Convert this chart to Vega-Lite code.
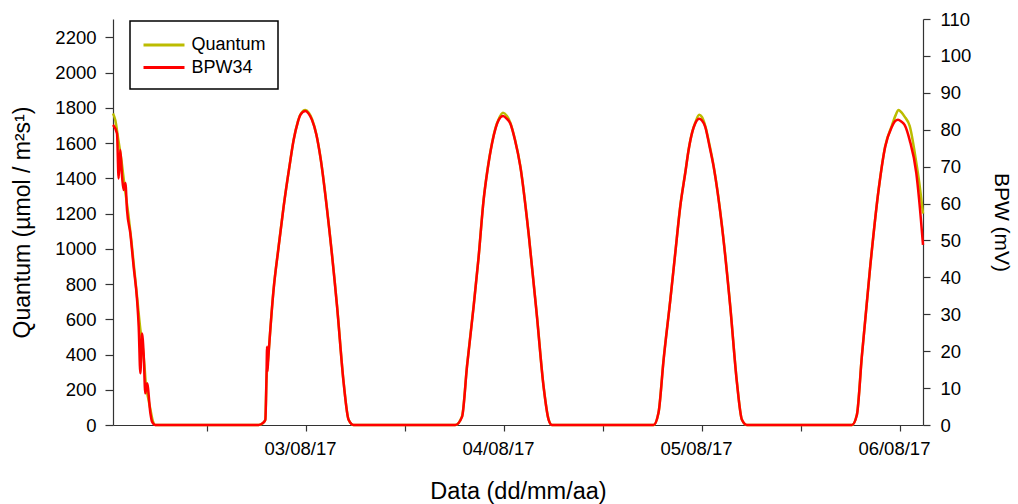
{
  "$schema": "https://vega.github.io/schema/vega-lite/v6.json",
  "width": 810,
  "height": 406,
  "autosize": {"type": "none"},
  "padding": {"left": 113, "top": 19, "right": 95, "bottom": 79},
  "background": "white",
  "config": {
    "view": {"stroke": null},
    "font": "Liberation Sans",
    "axis": {
      "grid": false,
      "domainColor": "#333",
      "tickColor": "#333",
      "domainWidth": 1.2,
      "tickWidth": 1.2,
      "labelColor": "#000",
      "titleColor": "#000",
      "labelFont": "Liberation Sans",
      "titleFont": "Liberation Sans",
      "labelFontSize": 18.5,
      "titleFontSize": 21,
      "titleFontWeight": "normal"
    },
    "legend": {
      "orient": "none",
      "legendX": 17,
      "legendY": 2,
      "strokeColor": "#000",
      "fillColor": "#fff",
      "strokeWidth": 1.5,
      "padding": 12,
      "symbolType": "M-2,0H2",
      "symbolStrokeWidth": 3,
      "symbolSize": 420,
      "symbolOffset": 10,
      "labelFontSize": 18,
      "labelFont": "Liberation Sans",
      "labelColor": "#000",
      "rowPadding": 1.5,
      "labelOffset": 15.5
    }
  },
  "data": {
    "values": [
      {"t": "2017-08-02T12:36", "s": "Quantum", "v": 1768},
      {"t": "2017-08-02T12:53", "s": "Quantum", "v": 1730},
      {"t": "2017-08-02T13:15", "s": "Quantum", "v": 1617},
      {"t": "2017-08-02T13:37", "s": "Quantum", "v": 1504},
      {"t": "2017-08-02T13:59", "s": "Quantum", "v": 1363},
      {"t": "2017-08-02T14:28", "s": "Quantum", "v": 1193},
      {"t": "2017-08-02T14:49", "s": "Quantum", "v": 1052},
      {"t": "2017-08-02T15:11", "s": "Quantum", "v": 882},
      {"t": "2017-08-02T15:33", "s": "Quantum", "v": 713},
      {"t": "2017-08-02T15:55", "s": "Quantum", "v": 543},
      {"t": "2017-08-02T16:10", "s": "Quantum", "v": 458},
      {"t": "2017-08-02T16:24", "s": "Quantum", "v": 345},
      {"t": "2017-08-02T16:35", "s": "Quantum", "v": 232},
      {"t": "2017-08-02T16:53", "s": "Quantum", "v": 147},
      {"t": "2017-08-02T17:08", "s": "Quantum", "v": 90},
      {"t": "2017-08-02T17:22", "s": "Quantum", "v": 34},
      {"t": "2017-08-02T17:44", "s": "Quantum", "v": 0},
      {"t": "2017-08-03T06:15", "s": "Quantum", "v": 0},
      {"t": "2017-08-03T06:45", "s": "Quantum", "v": 10},
      {"t": "2017-08-03T07:04", "s": "Quantum", "v": 30},
      {"t": "2017-08-03T07:12", "s": "Quantum", "v": 250},
      {"t": "2017-08-03T07:25", "s": "Quantum", "v": 380},
      {"t": "2017-08-03T08:04", "s": "Quantum", "v": 770},
      {"t": "2017-08-03T08:40", "s": "Quantum", "v": 1010},
      {"t": "2017-08-03T09:17", "s": "Quantum", "v": 1240},
      {"t": "2017-08-03T10:00", "s": "Quantum", "v": 1470},
      {"t": "2017-08-03T10:30", "s": "Quantum", "v": 1618},
      {"t": "2017-08-03T11:00", "s": "Quantum", "v": 1720},
      {"t": "2017-08-03T11:19", "s": "Quantum", "v": 1762},
      {"t": "2017-08-03T11:55", "s": "Quantum", "v": 1788},
      {"t": "2017-08-03T12:20", "s": "Quantum", "v": 1772},
      {"t": "2017-08-03T12:44", "s": "Quantum", "v": 1735},
      {"t": "2017-08-03T13:15", "s": "Quantum", "v": 1650},
      {"t": "2017-08-03T13:44", "s": "Quantum", "v": 1525},
      {"t": "2017-08-03T14:44", "s": "Quantum", "v": 1150},
      {"t": "2017-08-03T15:46", "s": "Quantum", "v": 675},
      {"t": "2017-08-03T16:34", "s": "Quantum", "v": 240},
      {"t": "2017-08-03T17:10", "s": "Quantum", "v": 30},
      {"t": "2017-08-03T17:46", "s": "Quantum", "v": 0},
      {"t": "2017-08-04T06:06", "s": "Quantum", "v": 0},
      {"t": "2017-08-04T06:55", "s": "Quantum", "v": 50},
      {"t": "2017-08-04T07:31", "s": "Quantum", "v": 335},
      {"t": "2017-08-04T08:19", "s": "Quantum", "v": 675},
      {"t": "2017-08-04T08:55", "s": "Quantum", "v": 950},
      {"t": "2017-08-04T09:32", "s": "Quantum", "v": 1280},
      {"t": "2017-08-04T10:00", "s": "Quantum", "v": 1450},
      {"t": "2017-08-04T10:33", "s": "Quantum", "v": 1600},
      {"t": "2017-08-04T11:00", "s": "Quantum", "v": 1690},
      {"t": "2017-08-04T11:21", "s": "Quantum", "v": 1735},
      {"t": "2017-08-04T11:53", "s": "Quantum", "v": 1772},
      {"t": "2017-08-04T12:20", "s": "Quantum", "v": 1755},
      {"t": "2017-08-04T12:46", "s": "Quantum", "v": 1716},
      {"t": "2017-08-04T13:20", "s": "Quantum", "v": 1620},
      {"t": "2017-08-04T13:59", "s": "Quantum", "v": 1470},
      {"t": "2017-08-04T14:59", "s": "Quantum", "v": 1090},
      {"t": "2017-08-04T16:00", "s": "Quantum", "v": 618},
      {"t": "2017-08-04T16:48", "s": "Quantum", "v": 220},
      {"t": "2017-08-04T17:25", "s": "Quantum", "v": 30},
      {"t": "2017-08-04T17:49", "s": "Quantum", "v": 0},
      {"t": "2017-08-05T06:08", "s": "Quantum", "v": 0},
      {"t": "2017-08-05T06:44", "s": "Quantum", "v": 70},
      {"t": "2017-08-05T07:21", "s": "Quantum", "v": 372},
      {"t": "2017-08-05T08:10", "s": "Quantum", "v": 712},
      {"t": "2017-08-05T08:45", "s": "Quantum", "v": 970},
      {"t": "2017-08-05T09:22", "s": "Quantum", "v": 1240},
      {"t": "2017-08-05T10:00", "s": "Quantum", "v": 1440},
      {"t": "2017-08-05T10:23", "s": "Quantum", "v": 1562},
      {"t": "2017-08-05T10:50", "s": "Quantum", "v": 1665},
      {"t": "2017-08-05T11:11", "s": "Quantum", "v": 1715},
      {"t": "2017-08-05T11:40", "s": "Quantum", "v": 1760},
      {"t": "2017-08-05T12:00", "s": "Quantum", "v": 1748},
      {"t": "2017-08-05T12:24", "s": "Quantum", "v": 1698},
      {"t": "2017-08-05T12:55", "s": "Quantum", "v": 1590},
      {"t": "2017-08-05T13:25", "s": "Quantum", "v": 1470},
      {"t": "2017-08-05T14:26", "s": "Quantum", "v": 1130},
      {"t": "2017-08-05T15:26", "s": "Quantum", "v": 675},
      {"t": "2017-08-05T16:15", "s": "Quantum", "v": 240},
      {"t": "2017-08-05T16:51", "s": "Quantum", "v": 30},
      {"t": "2017-08-05T17:27", "s": "Quantum", "v": 0},
      {"t": "2017-08-06T06:11", "s": "Quantum", "v": 0},
      {"t": "2017-08-06T06:47", "s": "Quantum", "v": 60},
      {"t": "2017-08-06T07:23", "s": "Quantum", "v": 390},
      {"t": "2017-08-06T08:24", "s": "Quantum", "v": 900},
      {"t": "2017-08-06T09:25", "s": "Quantum", "v": 1335},
      {"t": "2017-08-06T10:13", "s": "Quantum", "v": 1582},
      {"t": "2017-08-06T11:02", "s": "Quantum", "v": 1700},
      {"t": "2017-08-06T11:30", "s": "Quantum", "v": 1760},
      {"t": "2017-08-06T11:50", "s": "Quantum", "v": 1788},
      {"t": "2017-08-06T12:10", "s": "Quantum", "v": 1775},
      {"t": "2017-08-06T12:34", "s": "Quantum", "v": 1750},
      {"t": "2017-08-06T13:11", "s": "Quantum", "v": 1697},
      {"t": "2017-08-06T13:59", "s": "Quantum", "v": 1490},
      {"t": "2017-08-06T14:20", "s": "Quantum", "v": 1380},
      {"t": "2017-08-06T14:48", "s": "Quantum", "v": 1200},

      {"t": "2017-08-02T12:36", "s": "BPW34", "v": 81.3},
      {"t": "2017-08-02T13:05", "s": "BPW34", "v": 79.0},
      {"t": "2017-08-02T13:17", "s": "BPW34", "v": 66.8},
      {"t": "2017-08-02T13:29", "s": "BPW34", "v": 74.5},
      {"t": "2017-08-02T13:42", "s": "BPW34", "v": 67.3},
      {"t": "2017-08-02T13:53", "s": "BPW34", "v": 63.7},
      {"t": "2017-08-02T14:06", "s": "BPW34", "v": 65.6},
      {"t": "2017-08-02T14:18", "s": "BPW34", "v": 58.2},
      {"t": "2017-08-02T14:42", "s": "BPW34", "v": 51.9},
      {"t": "2017-08-02T15:06", "s": "BPW34", "v": 42.9},
      {"t": "2017-08-02T15:31", "s": "BPW34", "v": 33.9},
      {"t": "2017-08-02T15:43", "s": "BPW34", "v": 26.6},
      {"t": "2017-08-02T15:55", "s": "BPW34", "v": 14.0},
      {"t": "2017-08-02T16:07", "s": "BPW34", "v": 24.8},
      {"t": "2017-08-02T16:19", "s": "BPW34", "v": 19.3},
      {"t": "2017-08-02T16:31", "s": "BPW34", "v": 8.6},
      {"t": "2017-08-02T16:44", "s": "BPW34", "v": 11.3},
      {"t": "2017-08-02T17:08", "s": "BPW34", "v": 3.2},
      {"t": "2017-08-02T17:20", "s": "BPW34", "v": 0.9},
      {"t": "2017-08-02T17:44", "s": "BPW34", "v": 0},
      {"t": "2017-08-03T06:15", "s": "BPW34", "v": 0},
      {"t": "2017-08-03T06:45", "s": "BPW34", "v": 0.5},
      {"t": "2017-08-03T07:04", "s": "BPW34", "v": 1.4},
      {"t": "2017-08-03T07:12", "s": "BPW34", "v": 11.9},
      {"t": "2017-08-03T07:17", "s": "BPW34", "v": 21.2},
      {"t": "2017-08-03T07:19", "s": "BPW34", "v": 14.5},
      {"t": "2017-08-03T07:25", "s": "BPW34", "v": 17.8},
      {"t": "2017-08-03T08:04", "s": "BPW34", "v": 36.6},
      {"t": "2017-08-03T08:40", "s": "BPW34", "v": 48.0},
      {"t": "2017-08-03T09:17", "s": "BPW34", "v": 59.1},
      {"t": "2017-08-03T10:00", "s": "BPW34", "v": 70.2},
      {"t": "2017-08-03T10:30", "s": "BPW34", "v": 77.2},
      {"t": "2017-08-03T11:00", "s": "BPW34", "v": 82.0},
      {"t": "2017-08-03T11:19", "s": "BPW34", "v": 84.0},
      {"t": "2017-08-03T11:55", "s": "BPW34", "v": 85.1},
      {"t": "2017-08-03T12:20", "s": "BPW34", "v": 84.3},
      {"t": "2017-08-03T12:44", "s": "BPW34", "v": 82.6},
      {"t": "2017-08-03T13:15", "s": "BPW34", "v": 78.7},
      {"t": "2017-08-03T13:44", "s": "BPW34", "v": 72.7},
      {"t": "2017-08-03T14:44", "s": "BPW34", "v": 54.7},
      {"t": "2017-08-03T15:46", "s": "BPW34", "v": 32.0},
      {"t": "2017-08-03T16:34", "s": "BPW34", "v": 11.3},
      {"t": "2017-08-03T17:10", "s": "BPW34", "v": 1.4},
      {"t": "2017-08-03T17:46", "s": "BPW34", "v": 0},
      {"t": "2017-08-04T06:06", "s": "BPW34", "v": 0},
      {"t": "2017-08-04T06:55", "s": "BPW34", "v": 2.2},
      {"t": "2017-08-04T07:31", "s": "BPW34", "v": 15.8},
      {"t": "2017-08-04T08:19", "s": "BPW34", "v": 32.0},
      {"t": "2017-08-04T08:55", "s": "BPW34", "v": 45.3},
      {"t": "2017-08-04T09:32", "s": "BPW34", "v": 61.0},
      {"t": "2017-08-04T10:00", "s": "BPW34", "v": 69.0},
      {"t": "2017-08-04T10:33", "s": "BPW34", "v": 76.3},
      {"t": "2017-08-04T11:00", "s": "BPW34", "v": 80.5},
      {"t": "2017-08-04T11:21", "s": "BPW34", "v": 82.6},
      {"t": "2017-08-04T11:53", "s": "BPW34", "v": 83.7},
      {"t": "2017-08-04T12:20", "s": "BPW34", "v": 83.0},
      {"t": "2017-08-04T12:46", "s": "BPW34", "v": 81.7},
      {"t": "2017-08-04T13:20", "s": "BPW34", "v": 77.2},
      {"t": "2017-08-04T13:59", "s": "BPW34", "v": 70.0},
      {"t": "2017-08-04T14:59", "s": "BPW34", "v": 51.9},
      {"t": "2017-08-04T16:00", "s": "BPW34", "v": 29.3},
      {"t": "2017-08-04T16:48", "s": "BPW34", "v": 10.4},
      {"t": "2017-08-04T17:25", "s": "BPW34", "v": 1.4},
      {"t": "2017-08-04T17:49", "s": "BPW34", "v": 0},
      {"t": "2017-08-05T06:08", "s": "BPW34", "v": 0},
      {"t": "2017-08-05T06:44", "s": "BPW34", "v": 3.3},
      {"t": "2017-08-05T07:21", "s": "BPW34", "v": 17.6},
      {"t": "2017-08-05T08:10", "s": "BPW34", "v": 33.9},
      {"t": "2017-08-05T08:45", "s": "BPW34", "v": 46.2},
      {"t": "2017-08-05T09:22", "s": "BPW34", "v": 59.1},
      {"t": "2017-08-05T10:00", "s": "BPW34", "v": 68.6},
      {"t": "2017-08-05T10:23", "s": "BPW34", "v": 74.5},
      {"t": "2017-08-05T10:50", "s": "BPW34", "v": 79.4},
      {"t": "2017-08-05T11:11", "s": "BPW34", "v": 81.7},
      {"t": "2017-08-05T11:40", "s": "BPW34", "v": 83.0},
      {"t": "2017-08-05T12:00", "s": "BPW34", "v": 82.5},
      {"t": "2017-08-05T12:24", "s": "BPW34", "v": 80.8},
      {"t": "2017-08-05T12:55", "s": "BPW34", "v": 75.5},
      {"t": "2017-08-05T13:25", "s": "BPW34", "v": 70.0},
      {"t": "2017-08-05T14:26", "s": "BPW34", "v": 53.7},
      {"t": "2017-08-05T15:26", "s": "BPW34", "v": 32.0},
      {"t": "2017-08-05T16:15", "s": "BPW34", "v": 11.3},
      {"t": "2017-08-05T16:51", "s": "BPW34", "v": 1.4},
      {"t": "2017-08-05T17:27", "s": "BPW34", "v": 0},
      {"t": "2017-08-06T06:11", "s": "BPW34", "v": 0},
      {"t": "2017-08-06T06:47", "s": "BPW34", "v": 2.7},
      {"t": "2017-08-06T07:23", "s": "BPW34", "v": 18.5},
      {"t": "2017-08-06T08:24", "s": "BPW34", "v": 42.9},
      {"t": "2017-08-06T09:25", "s": "BPW34", "v": 63.7},
      {"t": "2017-08-06T10:13", "s": "BPW34", "v": 75.4},
      {"t": "2017-08-06T11:02", "s": "BPW34", "v": 80.8},
      {"t": "2017-08-06T11:25", "s": "BPW34", "v": 82.3},
      {"t": "2017-08-06T11:46", "s": "BPW34", "v": 82.7},
      {"t": "2017-08-06T12:10", "s": "BPW34", "v": 82.2},
      {"t": "2017-08-06T12:34", "s": "BPW34", "v": 81.3},
      {"t": "2017-08-06T13:11", "s": "BPW34", "v": 77.2},
      {"t": "2017-08-06T13:59", "s": "BPW34", "v": 68.3},
      {"t": "2017-08-06T14:20", "s": "BPW34", "v": 61.0},
      {"t": "2017-08-06T14:48", "s": "BPW34", "v": 48.8}
    ]
  },
  "encoding": {
    "x": {
      "field": "t",
      "type": "temporal",
      "scale": {
        "domain": [
          {"year": 2017, "month": 8, "date": 2, "hours": 12, "minutes": 36},
          {"year": 2017, "month": 8, "date": 6, "hours": 14, "minutes": 48}
        ]
      },
      "axis": {
        "title": "Data (dd/mm/aa)",
        "titleFontSize": 23.5,
        "titlePadding": 22,
        "values": [
          {"year": 2017, "month": 8, "date": 3, "hours": 0},
          {"year": 2017, "month": 8, "date": 3, "hours": 12},
          {"year": 2017, "month": 8, "date": 4, "hours": 0},
          {"year": 2017, "month": 8, "date": 4, "hours": 12},
          {"year": 2017, "month": 8, "date": 5, "hours": 0},
          {"year": 2017, "month": 8, "date": 5, "hours": 12},
          {"year": 2017, "month": 8, "date": 6, "hours": 0},
          {"year": 2017, "month": 8, "date": 6, "hours": 12}
        ],
        "labelExpr": "hours(datum.value) == 12 ? timeFormat(datum.value, '%d/%m/%y') : ''",
        "labelOverlap": false,
        "labelFlush": false,
        "labelOffset": -6,
        "tickSize": 6,
        "labelPadding": 8
      }
    },
    "color": {
      "field": "s",
      "type": "nominal",
      "scale": {"domain": ["Quantum", "BPW34"], "range": ["#bcbc00", "#ff0000"]},
      "legend": {"title": null}
    }
  },
  "layer": [
    {
      "transform": [{"filter": "datum.s === 'Quantum'"}],
      "mark": {"type": "line", "strokeWidth": 2.5, "interpolate": "monotone"},
      "encoding": {
        "y": {
          "field": "v",
          "type": "quantitative",
          "scale": {"domain": [0, 2304], "nice": false},
          "axis": {
            "orient": "left",
            "title": "Quantum (µmol / m²s¹)",
            "titleFontSize": 23,
            "values": [0, 200, 400, 600, 800, 1000, 1200, 1400, 1600, 1800, 2000, 2200],
            "format": "d",
            "tickSize": 8,
            "labelPadding": 9,
            "titlePadding": 20
          }
        }
      }
    },
    {
      "transform": [{"filter": "datum.s === 'BPW34'"}],
      "mark": {"type": "line", "strokeWidth": 2.5, "interpolate": "monotone"},
      "encoding": {
        "y": {
          "field": "v",
          "type": "quantitative",
          "scale": {"domain": [0, 110], "nice": false},
          "axis": {
            "orient": "right",
            "title": "BPW (mV)",
            "values": [0, 10, 20, 30, 40, 50, 60, 70, 80, 90, 100, 110],
            "format": "d",
            "tickSize": 7,
            "labelPadding": 10,
            "titlePadding": 20
          }
        }
      }
    }
  ],
  "resolve": {"scale": {"y": "independent"}}
}
